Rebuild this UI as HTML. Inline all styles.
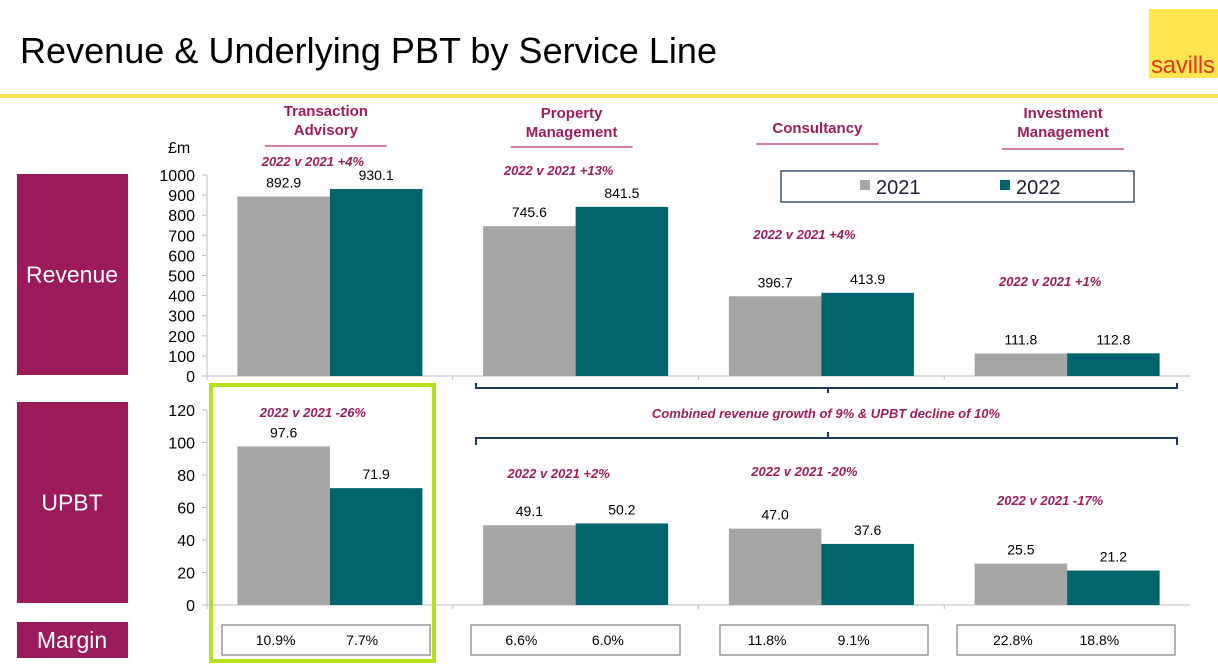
<!DOCTYPE html>
<html><head><meta charset="utf-8"><style>
body{margin:0;width:1218px;height:666px;background:#fff;overflow:hidden;font-family:"Liberation Sans",Arial,sans-serif;}
svg text{font-family:"Liberation Sans",Arial,sans-serif;}
</style></head><body>
<svg id="c" width="1218" height="666" viewBox="0 0 1218 666">
<text x="20" y="63" font-size="36" fill="#000" textLength="697">Revenue &amp; Underlying PBT by Service Line</text>
<rect x="1149" y="9" width="69" height="69" fill="#ffe552"/>
<text x="1183" y="73" font-size="24" fill="#e03a1e" text-anchor="middle" textLength="64">savills</text>
<rect x="0" y="94" width="1218" height="4" fill="#ffe14d"/>
<g id="side"></g>
<g id="cats"></g>
<g id="rev"></g>
<g id="upbt"></g>
<g id="margins"></g>
<rect x="781" y="171" width="353" height="31" fill="#fff" stroke="#1f3a5a" stroke-width="1.3"/>
<rect x="860" y="180" width="10" height="10" fill="#a6a6a6"/>
<text x="876" y="194" font-size="20" fill="#1f1f3a">2021</text>
<rect x="1000" y="180" width="10" height="10" fill="#00636e"/>
<text x="1016" y="194" font-size="20" fill="#1f1f3a">2022</text>
<path d="M476 383 V388 H1177 V383 M828 388 V393" fill="none" stroke="#1f3a5a" stroke-width="2"/>
<text x="826" y="418" font-size="13" font-weight="bold" font-style="italic" fill="#9c1f5c" text-anchor="middle">Combined revenue growth of 9% &amp; UPBT decline of 10%</text>
<path d="M476 445 V438 H1177 V445 M828 438 V432" fill="none" stroke="#1f3a5a" stroke-width="2"/>
<rect x="211" y="385" width="223" height="276" fill="none" stroke="#b5e31b" stroke-width="4"/>
</svg>
<script>
const categories=["Transaction Advisory","Property Management","Consultancy","Investment Management"];
const rev2021=[892.9,745.6,396.7,111.8];
const rev2022=[930.1,841.5,413.9,112.8];
const revGrowth=["+4%","+13%","+4%","+1%"];
const upbt2021=[97.6,49.1,47.0,25.5];
const upbt2022=[71.9,50.2,37.6,21.2];
const upbtGrowth=["-26%","+2%","-20%","-17%"];
const margin2021=["10.9%","6.6%","11.8%","22.8%"];
const margin2022=["7.7%","6.0%","9.1%","18.8%"];
const revTicks=[0,100,200,300,400,500,600,700,800,900,1000];
const upbtTicks=[0,20,40,60,80,100,120];

const NS="http://www.w3.org/2000/svg";
function mk(p,tag,at,txt){const e=document.createElementNS(NS,tag);for(const k in at)e.setAttribute(k,at[k]);if(txt!==undefined)e.textContent=txt;p.appendChild(e);return e;}
const X0=207,CW=245.75,BW=92.5;
const cx=i=>X0+CW*i+CW/2;
const yRev=v=>376-v*(201/1000);
const yUp=v=>605-v*(195/120);
const MAROON="#9c1f5c";

const side=document.getElementById('side');
[["Revenue",174,201,"revenue-label"],["UPBT",402,201,"upbt-label"],["Margin",622,36,"margin-label"]].forEach(a=>{
  const r=mk(side,'rect',{x:17,y:a[1],width:111,height:a[2],fill:"#9b1b5a"});
  
  
  const t=mk(side,'text',{x:72,y:a[1]+a[2]/2+8,'font-size':23,fill:"#fff",'text-anchor':'middle'},a[0]);
  
  
});

const cats=document.getElementById('cats');
const catLines=[["Transaction","Advisory"],["Property","Management"],["Consultancy"],["Investment","Management"]];
const catY=[116,118,133,118];
const ulY=[146,147,144,149];
catLines.forEach((ls,i)=>{
  ls.forEach((l,j)=>{
    const t=mk(cats,'text',{x:cx(i)-4,y:catY[i]+j*19,'font-size':15,'font-weight':'bold',fill:MAROON,'text-anchor':'middle'},l);
    
    
  });
  const u=mk(cats,'line',{x1:cx(i)-65,x2:cx(i)+57,y1:ulY[i],y2:ulY[i],stroke:"#b8306e",'stroke-width':1.3});
  
  
});

function panel(g,d1,d2,ticks,yf,growth,gy,name){
  const base=yf(0),top=yf(ticks[ticks.length-1]);
  mk(g,'line',{x1:X0,x2:X0,y1:top,y2:base+4,stroke:"#bfbfbf"});
  mk(g,'line',{x1:X0,x2:1190,y1:base,y2:base,stroke:"#bfbfbf"});
  for(let i=1;i<4;i++)mk(g,'line',{x1:X0+CW*i,x2:X0+CW*i,y1:base,y2:base+4,stroke:"#bfbfbf"});
  ticks.forEach(v=>{
    mk(g,'line',{x1:X0-5,x2:X0,y1:yf(v),y2:yf(v),stroke:"#bfbfbf"});
    const t=mk(g,'text',{x:195,y:yf(v)+6,'font-size':16,fill:"#000",'text-anchor':'end'},v);
    
    
  });
  categories.forEach((c,i)=>{
    const x=cx(i);
    [[d1[i],x-BW,"#a6a6a6","2021"],[d2[i],x,"#00636e","2022"]].forEach(b=>{
      const r=mk(g,'rect',{x:b[1],y:yf(b[0]),width:BW,height:base-yf(b[0]),fill:b[2]});
      
      
      const t=mk(g,'text',{x:b[1]+BW/2,y:yf(b[0])-9,'font-size':14,fill:"#000",'text-anchor':'middle'},b[0].toFixed(1));
      
      
    });
    const t=mk(g,'text',{x:x-17,y:gy[i],'font-size':13,'font-weight':'bold','font-style':'italic',fill:MAROON,'text-anchor':'middle'},"2022 v 2021 "+growth[i]);
    
    
  });
}
panel(document.getElementById('rev'),rev2021,rev2022,revTicks,yRev,revGrowth,[166,175,239,286],'revenue');
panel(document.getElementById('upbt'),upbt2021,upbt2022,upbtTicks,yUp,upbtGrowth,[417,478,476,505],'upbt');
const tl=mk(document.getElementById('rev'),'text',{x:168,y:153,'font-size':16,fill:"#000"},"£m");



const mg=document.getElementById('margins');
const mb=[[222,430],[471,680],[720,928],[957,1175]];
categories.forEach((c,i)=>{
  const r=mk(mg,'rect',{x:mb[i][0],y:625,width:mb[i][1]-mb[i][0],height:30,fill:"#fff",stroke:"#7f7f7f",'stroke-width':1.2});
  
  
  const x=cx(i);
  const a=mk(mg,'text',{x:x-BW/2-8,y:645,'font-size':14,fill:"#000",'text-anchor':'middle'},margin2021[i]);
  
  
  const b=mk(mg,'text',{x:x+BW/2-14,y:645,'font-size':14,fill:"#000",'text-anchor':'middle'},margin2022[i]);
  
  
});
</script>
</body></html>
